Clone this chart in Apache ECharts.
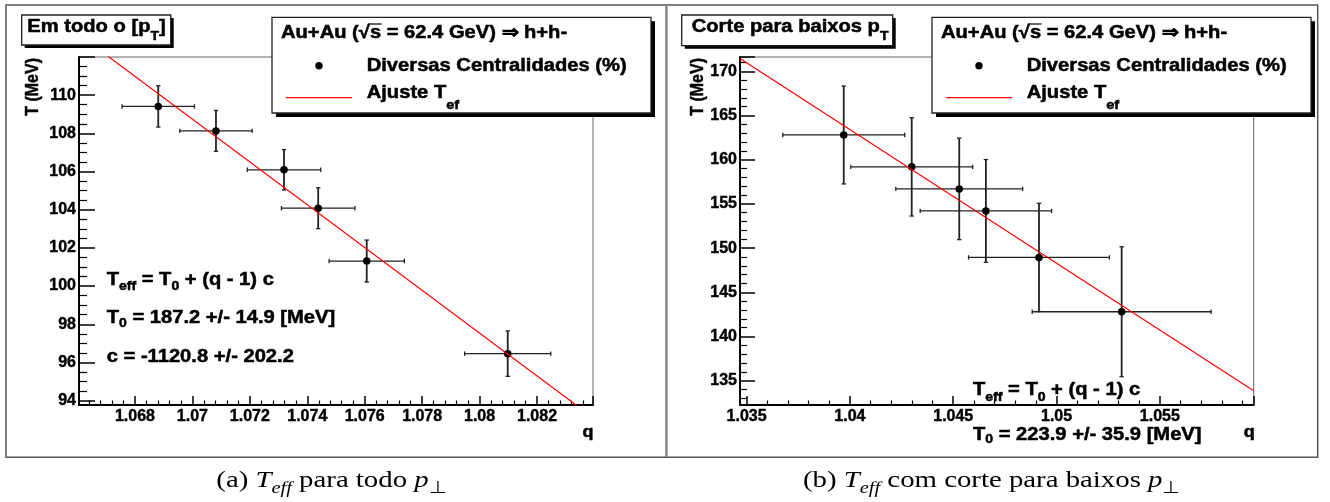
<!DOCTYPE html>
<html>
<head>
<meta charset="utf-8">
<script src="https://cdn.jsdelivr.net/npm/echarts@6/dist/echarts.min.js"></script>
<style>
  html, body { margin: 0; padding: 0; background: #fff; }
  #chart { width: 1330px; height: 502px; }
</style>
</head>
<body>
<div id="chart"></div>
<script>
// (a) Em todo o [pT]
const qA  = [1.06881, 1.07082, 1.07319, 1.07438, 1.07607, 1.08098];
const tA  = [109.41, 108.13, 106.09, 104.08, 101.31, 96.46];
const dqA = [0.00126, 0.00126, 0.00128, 0.00128, 0.00131, 0.0015];
const dtA = [1.08, 1.07, 1.06, 1.07, 1.10, 1.19];
const T0A = 187.2, cA = -1120.8;
const xTicksA = ['1.068', '1.07', '1.072', '1.074', '1.076', '1.078', '1.08', '1.082'];
const yTicksA = ['94', '96', '98', '100', '102', '104', '106', '108', '110'];
const xRangeA = [1.06605, 1.08395], yRangeA = [93.77, 112.0];

// (b) Corte para baixos pT
const qB  = [1.0397, 1.04299, 1.04529, 1.04658, 1.04915, 1.05315];
const tB  = [162.8, 159.19, 156.70, 154.21, 148.95, 142.80];
const dqB = [0.00295, 0.00295, 0.00307, 0.00318, 0.00341, 0.00433];
const dtB = [5.54, 5.56, 5.74, 5.81, 6.12, 7.35];
const T0B = 223.9, cB = -1512;
const xTicksB = ['1.035', '1.04', '1.045', '1.05', '1.055'];
const yTicksB = ['135', '140', '145', '150', '155', '160', '165', '170'];
const xRangeB = [1.03468, 1.05954], yRangeB = [132.25, 171.62];

const SX = 1.12;   // the picture is stretched sideways
const OFF = 660;   // right panel shift
const SANS = 'Liberation Sans', SERIF = 'Liberation Serif';

const cv = document.createElement('canvas').getContext('2d');

// a line of text made of runs, runs flagged 's' (subscript) and/or 'i' (italic)
function textRun(x, y, parts, o) {
  const items = parts.map(([t, f = '']) => {
    const sub = f.includes('s'), it = f.includes('i');
    const size = sub ? o.sub : o.size;
    cv.font = `${it ? 'italic ' : ''}${o.weight} ${size}px "${o.family}"`;
    return { t, sub, it, size, w: cv.measureText(t).width * o.sx };
  });
  const total = items.reduce((s, i) => s + i.w, 0);
  let cx = o.align === 'center' ? x - total / 2 : x;
  const els = [];
  items.forEach(i => {
    i.x = cx;
    const style = {
      text: i.t, fontSize: i.size, fontFamily: o.family, fontWeight: o.weight,
      fontStyle: i.it ? 'italic' : 'normal', fill: '#000',
      align: 'left', verticalAlign: 'middle', textAlign: 'left', textVerticalAlign: 'middle'
    };
    if (o.heavy) { style.stroke = '#000'; style.lineWidth = o.heavy; }
    els.push({ type: 'text', x: cx, y: y + (i.sub ? o.subDy : 0), scaleX: o.sx, z: 120, style });
    cx += i.w;
  });
  return { els, items };
}

const bold = (sub, subDy) => ({ size: 18, sub: sub || 12.5, subDy: subDy || 0, family: SANS, weight: 'bold', sx: SX, heavy: 0.5 });

function box(x, y, w, h, sh) {
  return [
    { type: 'rect', z: 100, shape: { x: x + sh, y: y + sh, width: w, height: h }, style: { fill: '#000' } },
    { type: 'rect', z: 101, shape: { x, y, width: w, height: h }, style: { fill: '#fff', stroke: '#222', lineWidth: 1.3 } }
  ];
}

function legend(dx) {
  const els = box(272 + dx, 17.3, 379, 95.7, 4);
  const head = textRun(281 + dx, 33, [['Au+Au ('], ['√'], ['s'], [' = 62.4 GeV) '], ['⇒'], [' h+h-']], bold());
  els.push(...head.els);
  const s = head.items[2];
  els.push({ type: 'line', z: 121, shape: { x1: s.x - 1, y1: 24, x2: s.x + s.w + 0.5, y2: 24 }, style: { stroke: '#000', lineWidth: 1.2 } });
  els.push({ type: 'circle', z: 121, shape: { cx: 319 + dx, cy: 65.7, r: 3.7 }, style: { fill: '#000' } });
  els.push(...textRun(366.7 + dx, 65.7, [['Diversas Centralidades (%)']], bold()).els);
  els.push({ type: 'line', z: 121, shape: { x1: 286 + dx, y1: 97.7, x2: 352 + dx, y2: 97.7 }, style: { stroke: '#ff0000', lineWidth: 1.2 } });
  els.push(...textRun(366.7 + dx, 93, [['Ajuste T'], ['ef', 's']], bold(13, 12)).els);
  return els;
}

function yName(x) {
  return {
    type: 'text', x, y: 58, rotation: Math.PI / 2, scaleY: 1.15, z: 120,
    style: { text: 'T (MeV)', fontSize: 16, fontWeight: 'bold', fontFamily: SANS, fill: '#000',
      stroke: '#000', lineWidth: 0.4,
      align: 'right', verticalAlign: 'middle', textAlign: 'right', textVerticalAlign: 'middle' }
  };
}

const cap = { size: 24, sub: 17, subDy: 8, family: SERIF, weight: 'normal', sx: 1.2, align: 'center' };
const qName = Object.assign(bold(), { size: 16, align: 'center' });

const graphics = [
  { type: 'rect', z: 90, shape: { x: 6, y: 5, width: 1311.7, height: 452.3 }, style: { fill: 'none', stroke: '#555', lineWidth: 1.5 } },
  { type: 'line', z: 90, shape: { x1: 666.4, y1: 5, x2: 666.4, y2: 457 }, style: { stroke: '#888', lineWidth: 2.5 } },
  ...box(21.7, 15, 149, 30, 3),
  ...textRun(27.3, 27, [['Em todo o [p'], ['T', 's'], [']']], bold(12.5, 10)).els,
  ...box(21.7 + OFF, 15, 211, 30.7, 3),
  ...textRun(27.3 + 664.4, 27, [['Corte para baixos p'], ['T', 's']], bold(12.5, 10)).els,
  ...legend(0),
  ...legend(OFF),
  yName(33.3),
  yName(698.3),
  ...textRun(106.7, 280, [['T'], ['eff', 's'], [' = T'], ['0', 's'], [' + (q - 1) c']], bold(12.5, 6.5)).els,
  ...textRun(106.7, 318.3, [['T'], ['0', 's'], [' = 187.2 +/- 14.9 [MeV]']], bold(12.5, 5.5)).els,
  ...textRun(106.7, 356.7, [['c = -1120.8 +/- 202.2']], bold()).els,
  ...textRun(973, 390, [['T'], ['eff', 's'], [' = T'], ['0', 's'], [' + (q - 1) c']], bold(12.5, 7.5)).els,
  ...textRun(973, 435.3, [['T'], ['0', 's'], [' = 223.9 +/- 35.9 [MeV]']], bold(12.5, 4.5)).els,
  ...textRun(588, 432.7, [['q']], qName).els,
  ...textRun(1249.3, 432.7, [['q']], qName).els,
  ...textRun(331.5, 481, [['(a) '], ['T', 'i'], ['eff', 'is'], [' para todo '], ['p', 'i'], ['⊥', 's']], cap).els,
  ...textRun(991.7, 481, [['(b) '], ['T', 'i'], ['eff', 'is'], [' com corte para baixos '], ['p', 'i'], ['⊥', 's']], cap).els
];

function labelOf(v, ticks) {
  const hit = ticks.find(t => Math.abs(+t - v) < 1e-7);
  return hit || '';
}

function axisOf(idx, range, ticks, split, minorSplit, len, minorLen, margin) {
  return {
    type: 'value', gridIndex: idx, min: range[0], max: range[1], splitNumber: split,
    axisLine: { show: true, onZero: false, lineStyle: { color: '#000', width: 2 } },
    axisTick: { show: true, inside: true, length: len, lineStyle: { color: '#000', width: 1.5 } },
    minorTick: { show: true, splitNumber: minorSplit, length: minorLen, lineStyle: { color: '#000', width: 1.2 } },
    splitLine: { show: false },
    minorSplitLine: { show: false },
    axisLabel: {
      margin, color: '#000', fontFamily: SANS, fontWeight: 'bold', fontSize: 16,
      textBorderColor: '#000', textBorderWidth: 0.4,
      formatter: v => labelOf(v, ticks)
    }
  };
}

function errorBars(idx, qs, ts, dqs, dts) {
  return {
    type: 'custom', xAxisIndex: idx, yAxisIndex: idx, z: 3, silent: true,
    encode: { x: 0, y: 1 },
    data: qs.map((q, i) => [q, ts[i], dqs[i], dts[i]]),
    renderItem: (params, api) => {
      const q = api.value(0), t = api.value(1), dq = api.value(2), dt = api.value(3);
      const L = api.coord([q - dq, t]), R = api.coord([q + dq, t]);
      const U = api.coord([q, t + dt]), D = api.coord([q, t - dt]);
      const c = 2.2;
      const seg = (x1, y1, x2, y2, w) => ({ type: 'line', shape: { x1, y1, x2, y2 }, style: { stroke: '#222', lineWidth: w } });
      return {
        type: 'group', children: [
          seg(L[0], L[1], R[0], R[1], 1.3),
          seg(U[0], U[1], D[0], D[1], 1.8),
          seg(L[0], L[1] - c, L[0], L[1] + c, 1.3),
          seg(R[0], R[1] - c, R[0], R[1] + c, 1.3),
          seg(U[0] - c, U[1], U[0] + c, U[1], 1.3),
          seg(D[0] - c, D[1], D[0] + c, D[1], 1.3)
        ]
      };
    }
  };
}

function points(idx, qs, ts) {
  return {
    type: 'scatter', xAxisIndex: idx, yAxisIndex: idx, z: 4, silent: true,
    symbol: 'circle', symbolSize: 7.5,
    itemStyle: { color: '#000', opacity: 1 },
    data: qs.map((q, i) => [q, ts[i]])
  };
}

function fitLine(idx, range, T0, c) {
  return {
    type: 'line', xAxisIndex: idx, yAxisIndex: idx, z: 5, silent: true, clip: true,
    symbol: 'none', showSymbol: false,
    lineStyle: { color: '#ff0000', width: 1.2 },
    data: range.map(q => [q, T0 + (q - 1) * c])
  };
}

const chart = echarts.init(document.getElementById('chart'));
chart.setOption({
  animation: false,
  backgroundColor: '#fff',
  grid: [
    { left: 79, top: 57, width: 514, height: 348, show: true, borderColor: '#666', borderWidth: 1, backgroundColor: 'transparent', containLabel: false, outerBoundsMode: 'none' },
    { left: 740, top: 57, width: 513.7, height: 348, show: true, borderColor: '#666', borderWidth: 1, backgroundColor: 'transparent', containLabel: false, outerBoundsMode: 'none' }
  ],
  xAxis: [
    axisOf(0, xRangeA, xTicksA, 9, 5, 9, 4.5, 4),
    axisOf(1, xRangeB, xTicksB, 5, 5, 9, 4.5, 4)
  ],
  yAxis: [
    axisOf(0, yRangeA, yTicksA, 9, 4, 16, 8, 3),
    axisOf(1, yRangeB, yTicksB, 8, 5, 15, 7, 3)
  ],
  series: [
    errorBars(0, qA, tA, dqA, dtA),
    points(0, qA, tA),
    fitLine(0, xRangeA, T0A, cA),
    errorBars(1, qB, tB, dqB, dtB),
    points(1, qB, tB),
    fitLine(1, xRangeB, T0B, cB)
  ],
  graphic: { elements: graphics }
});
</script>
</body>
</html>
